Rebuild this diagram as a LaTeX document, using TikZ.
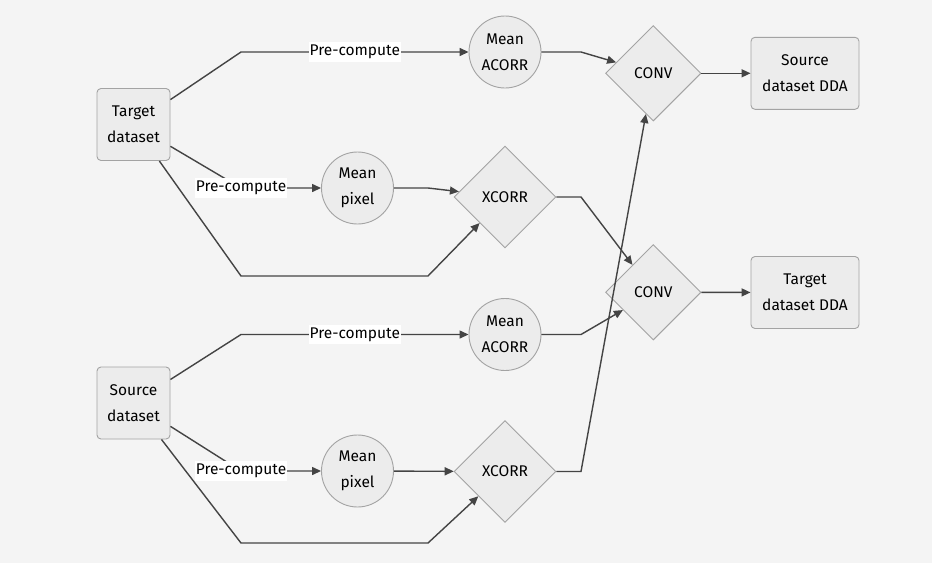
\documentclass[tikz,border=0pt]{standalone}
\usepackage{fontspec}
\setmainfont{Fira Sans}
\usetikzlibrary{shapes.geometric,arrows.meta}
\definecolor{bgc}{HTML}{F4F4F4}
\definecolor{nodefill}{HTML}{ECECEC}
\definecolor{nodestroke}{HTML}{A3A3A3}
\definecolor{edgec}{HTML}{444444}
\tikzset{
  txt/.style={font=\fontsize{15.5pt}{25.6pt}\selectfont, text=black, align=center},
  dbox/.style={txt, draw=nodestroke, fill=nodefill, line width=0.9pt, rounded corners=4pt, minimum height=72pt, inner sep=0pt},
  circ/.style={txt, circle, draw=nodestroke, fill=nodefill, line width=0.9pt, minimum size=72pt, inner sep=0pt},
  dia/.style={txt, diamond, draw=nodestroke, fill=nodefill, line width=0.9pt, minimum size=102pt, inner sep=0pt},
  edge/.style={draw=edgec, line width=1.4pt, -{Triangle[length=9pt,width=8pt]}},
  lbl/.style={txt, fill=white, inner xsep=1pt, inner ysep=3pt}
}
\begin{document}
\begin{tikzpicture}[x=1pt,y=-1pt]
\fill[bgc] (0,0) rectangle (932,563);
\useasboundingbox (0,0) rectangle (932,563);

% nodes
\node[dbox, minimum width=73pt] (t) at (133.5,124.5) {Target\\dataset};
\node[dbox, minimum width=73pt] (s) at (133.5,403) {Source\\dataset};
\node[circ] (ma1) at (505,52) {Mean\\ACORR};
\node[circ] (mp1) at (357.5,188) {Mean\\pixel};
\node[dia] (x1) at (505,197) {XCORR};
\node[circ] (ma2) at (505,334.5) {Mean\\ACORR};
\node[circ] (mp2) at (357.5,471) {Mean\\pixel};
\node[dia] (x2) at (505,471.5) {XCORR};
\node[dia, minimum size=95.4pt] (c1) at (653.3,73.3) {CONV};
\node[dia, minimum size=95.4pt] (c2) at (653.3,292.3) {CONV};
\node[dbox, minimum width=108pt] (sd) at (805,73.3) {Source\\dataset DDA};
\node[dbox, minimum width=108pt] (td) at (805,292.5) {Target\\dataset DDA};

% edges top
\draw[edge] (t) -- (241,52) -- node[lbl]{Pre-compute} (ma1);
\draw[edge] (t) -- (241,188) node[lbl]{Pre-compute} -- (mp1);
\draw[edge] (t) -- (241,276) -- (428,276) -- (x1);
\draw[edge] (mp1) -- (428,188) -- (x1);
\draw[edge] (ma1) -- (581,52) -- (c1);
\draw[edge] (x1) -- (581,197) -- (c2);
\draw[edge] (c1) -- (sd);
% edges bottom
\draw[edge] (s) -- (241,334.5) -- node[lbl]{Pre-compute} (ma2);
\draw[edge] (s) -- (241,471) node[lbl]{Pre-compute} -- (mp2);
\draw[edge] (s) -- (241,543) -- (428,543) -- (x2);
\draw[edge] (mp2) -- (x2);
\draw[edge] (ma2) -- (581,334.5) -- (c2);
\draw[edge] (x2) -- (581,471.5) -- (c1);
\draw[edge] (c2) -- (td);
\end{tikzpicture}
\end{document}
